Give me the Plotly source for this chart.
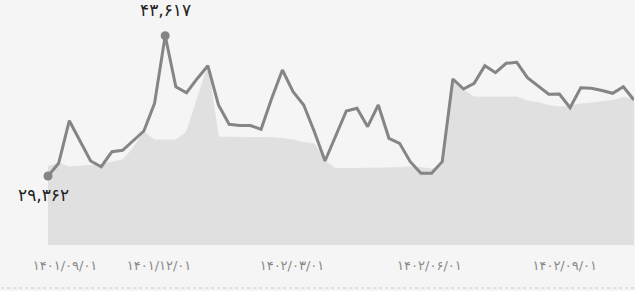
import plotly.graph_objects as go

# weekly index of observations
idx = list(range(56))

price = [29362, 30652, 34980, 32918, 30886, 30307, 31831, 31973, 32989, 33934,
         36748, 43617, 38435, 37825, 39248, 40568, 36576, 34615, 34493, 34493,
         34107, 37256, 40132, 37927, 36576, 33863, 30886, 33355, 35966, 36240,
         34371, 36576, 33192, 32684, 30815, 29636, 29636, 30815, 39217, 38201,
         38780, 40568, 39857, 40812, 40914, 39349, 38506, 37663, 37693, 36301,
         38333, 38272, 38049, 37764, 38435, 37084]

base = [30327, 30652, 30276, 30378, 30429, 30530, 30784, 30988, 32207, 33863,
        33020, 33020, 33020, 33863, 37185, 40467, 33324, 33324, 33324, 33300,
        33280, 33250, 33172, 33020, 32766, 32613, 30886, 30124, 30124, 30124,
        30124, 30175, 30175, 30226, 30276, 30226, 30073, 30378, 39217, 38100,
        37388, 37388, 37388, 37388, 37388, 36982, 36830, 36525, 36372, 36474,
        36677, 36779, 36880, 37033, 37338, 37185]

tick_pos = [1.6, 10.42, 22.9, 35.8, 48.5]
tick_text = ["۱۴۰۱/۰۹/۰۱", "۱۴۰۱/۱۲/۰۱", "۱۴۰۲/۰۳/۰۱", "۱۴۰۲/۰۶/۰۱", "۱۴۰۲/۰۹/۰۱"]

max_label = "۴۳,۶۱۷"
min_label = "۲۹,۳۶۲"

BG = "#f5f5f5"
LINE = "#858585"
FILL = "#e0e0e0"

fig = go.Figure()
fig.add_trace(go.Scatter(x=idx, y=base, mode="lines", fill="tozeroy",
                         fillcolor=FILL, line=dict(color="#e2e2e2", width=1),
                         hoverinfo="skip"))
fig.add_trace(go.Scatter(x=idx, y=price, mode="lines",
                         line=dict(color=LINE, width=3)))

imax = price.index(max(price))
fig.add_trace(go.Scatter(x=[idx[0], idx[imax]], y=[price[0], price[imax]],
                         mode="markers", marker=dict(color=LINE, size=9),
                         cliponaxis=False))

fig.add_annotation(x=idx[imax], y=price[imax], text=max_label, showarrow=False,
                   yshift=26, font=dict(family="DejaVu Sans", size=17, color="#222"))
fig.add_annotation(x=idx[0], y=price[0], text=min_label, showarrow=False,
                   xshift=-5, yshift=-19, font=dict(family="DejaVu Sans", size=17, color="#222"))

fig.add_shape(type="line", xref="paper", yref="paper", x0=-0.09, x1=1.01,
              y0=-0.183, y1=-0.183, line=dict(color="#c8c8c8", width=1, dash="dot"))

fig.update_layout(
    width=635, height=291,
    margin=dict(l=48, r=1, t=10, b=46),
    paper_bgcolor=BG, plot_bgcolor=BG,
    showlegend=False,
    xaxis=dict(range=[0, 55], tickvals=tick_pos, ticktext=tick_text,
               showgrid=False, zeroline=False, showline=False,
               ticks="outside", ticklen=8, tickcolor=BG,
               tickfont=dict(family="DejaVu Sans", size=13, color="#888")),
    yaxis=dict(range=[22352, 46228], showgrid=False, zeroline=False,
               showticklabels=False, showline=False),
)

fig.write_html("out.html", config={"displayModeBar": False},
               post_script="document.body.style.margin='0';document.body.style.background='#f5f5f5';")
